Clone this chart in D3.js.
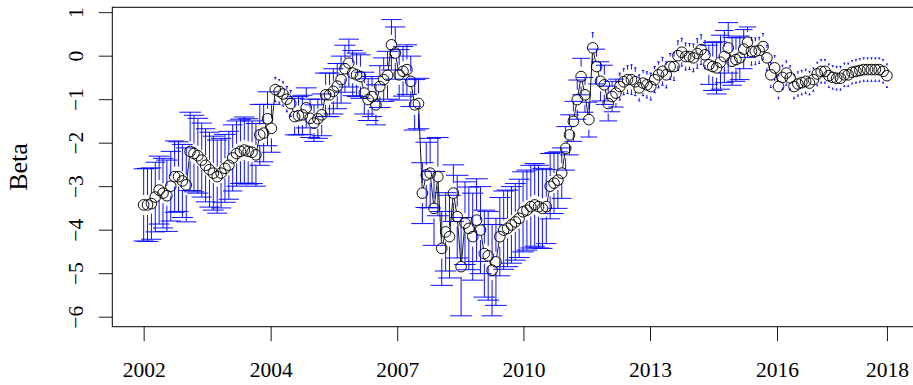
<!DOCTYPE html>
<html>
<head>
<meta charset="utf-8">
<script src="https://cdn.jsdelivr.net/npm/d3@7"></script>
<style>
  body { margin: 0; background: #fff; }
  svg { display: block; }
</style>
</head>
<body>
<div id="chart"></div>
<script>
// monthly estimates, Jan 2002 .. Jan 2018 (index 0..192)
const beta = [
  -3.43,-3.43,-3.40,-3.25,-3.09,-3.16,-3.22,-3.00,-2.78,-2.78,
  -2.88,-2.97,-2.20,-2.25,-2.30,-2.40,-2.52,-2.62,-2.70,-2.78,
  -2.70,-2.59,-2.52,-2.35,-2.25,-2.20,-2.17,-2.20,-2.22,-2.28,
  -1.82,-1.78,-1.45,-1.67,-0.78,-0.82,-0.88,-1.00,-1.10,-1.40,
  -1.38,-1.36,-1.20,-1.44,-1.55,-1.45,-1.36,-0.90,-0.90,-0.82,
  -0.70,-0.55,-0.30,-0.17,-0.40,-0.44,-0.48,-0.86,-1.01,-0.94,
  -1.13,-0.71,-0.55,-0.45, 0.25, 0.06,-0.44,-0.36,-0.32,-0.59,
  -1.13,-1.10,-3.16,-2.74,-2.70,-3.51,-2.78,-4.43,-4.05,-4.16,
  -3.16,-3.70,-4.85,-3.85,-3.97,-4.16,-3.78,-4.01,-4.55,-4.60,
  -4.93,-4.74,-4.16,-4.01,-3.97,-3.89,-3.82,-3.74,-3.59,-3.55,
  -3.47,-3.43,-3.47,-3.51,-3.47,-3.00,-2.93,-2.86,-2.70,-2.13,
  -1.82,-1.51,-1.01,-0.48,-0.90,-1.47, 0.18,-0.25,-0.59,-0.67,
  -1.10,-0.94,-0.86,-0.71,-0.60,-0.55,-0.55,-0.60,-0.74,-0.63,
  -0.67,-0.71,-0.55,-0.44,-0.36,-0.44,-0.25,-0.25, 0.00, 0.08,
  -0.02,-0.02,-0.05, 0.05, 0.14, 0.02,-0.21,-0.25,-0.28,-0.15,
  -0.02, 0.18,-0.13,-0.09,-0.05, 0.15, 0.31, 0.10, 0.10, 0.12,
   0.21,-0.05,-0.44,-0.28,-0.71,-0.50,-0.40,-0.51,-0.71,-0.65,
  -0.62,-0.59,-0.63,-0.55,-0.42,-0.36,-0.36,-0.46,-0.50,-0.52,
  -0.52,-0.44,-0.44,-0.38,-0.36,-0.34,-0.32,-0.32,-0.32,-0.32,
  -0.32,-0.36,-0.46
];

// half width of the confidence interval (beta units)
const ciHalf = [
  0.83,0.84,0.82,0.80,0.78,0.80,0.82,
  0.80,0.82,0.80,0.84,0.85,
  0.90,0.88,0.86,0.85,0.84,0.86,0.85,0.84,
  0.80,0.78,0.78,0.76,0.75,0.74,0.76,0.75,0.72,0.72,
  0.70,0.66,0.62,0.55,
  0.28,0.27,0.28,0.29,0.30,
  0.42,0.44,0.45,0.46,0.44,0.42,0.45,0.48,
  0.50,0.50,0.52,0.52,0.54,0.54,0.55,0.52,0.50,0.50,0.48,0.48,0.46,0.46,0.48,0.50,
  0.55,0.58,0.60,0.58,0.57,0.57,0.58,0.58,0.58,
  0.70,0.75,0.80,0.85,0.90,0.85,0.90,0.95,0.65,0.95,1.13,0.95,0.95,1.00,0.95,1.00,1.00,1.02,1.05,1.00,
  0.90,0.90,0.88,0.88,0.88,0.90,0.92,0.92,0.95,0.95,0.95,0.92,
  0.85,0.75,0.70,0.65,0.58,0.50,0.46,0.46,
  0.45,0.42,0.40,0.40,0.35,0.40,0.45,0.45,
  0.40,0.35,0.32,0.31,0.30,0.32,0.34,0.32,0.30,0.29,
  0.30,0.31,0.30,0.30,0.32,0.30,0.30,0.32,0.34,0.32,
  0.31,0.30,0.32,0.34,0.34,0.32,
  0.45,0.55,0.60,0.62,0.60,0.58,0.55,0.50,0.50,0.45,0.35,
  0.32,0.31,0.30,0.30,0.29,0.29,0.28,0.28,0.28,0.28,
  0.28,0.28,0.28,0.28,0.28,0.27,0.27,0.27,0.27,0.27,
  0.27,0.27,0.27,0.27,0.27,0.27,0.27,0.27,0.27,0.27,
  0.27,0.27,0.27,0.27,0.27,0.27
];

// half width of the horizontal caps (months)
const capHalf = [
  2.6,2.8,2.6,2.5,2.7,2.6,2.8,2.6,2.5,2.6,
  2.7,2.6,2.8,2.6,2.7,2.6,2.5,2.6,2.7,2.6,
  2.6,2.8,2.6,2.5,2.6,2.7,2.6,2.6,2.8,2.6,
  2.6,2.5,2.6,2.4,
  0.3,0.25,0.25,0.3,0.3,
  2.5,2.6,2.6,2.7,2.6,2.5,2.6,2.6,2.7,2.6,
  2.6,2.5,2.6,2.7,2.6,2.6,2.5,2.6,2.6,2.7,
  2.6,2.6,2.8,2.7,2.8,2.6,2.6,2.7,2.6,2.6,
  2.7,2.8,2.8,2.9,2.8,2.8,2.9,2.8,2.9,2.8,
  2.9,2.8,2.9,2.8,2.8,2.9,2.8,2.9,2.8,2.8,
  2.8,2.7,2.8,2.7,2.7,2.8,2.7,2.7,2.7,2.8,
  2.7,2.7,2.6,2.7,2.6,2.6,2.6,2.5,2.5,2.5,
  2.4,2.4,2.3,2.3,2.3,2.2,2.2,
  0.3,
  2.2,2.3,2.2,2.3,2.1,2.0,
  0.3,0.3,0.3,0.3,0.3,0.3,0.3,0.3,0.3,0.3,
  0.3,0.3,0.3,0.3,0.3,0.3,0.3,0.3,0.3,0.3,
  0.3,0.3,0.3,
  2.3,2.5,2.6,2.5,2.4,2.6,2.5,2.4,2.5,2.3,2.2,
  0.25,0.25,0.25,0.25,0.25,0.25,0.25,0.25,0.25,0.25,
  0.25,0.25,0.25,0.25,0.25,0.25,0.25,0.25,0.25,0.25,
  0.25,0.25,0.25,0.25,0.25,0.25,0.25,0.25,0.25,0.25,
  0.25,0.25,0.25,0.25,0.25,0.25
];

// x ticks sit at month indices, labelled with the year
const xTicks = [0, 32.8, 65.5, 98.1, 130.8, 163.6, 192];
const xTickLabels = ["2002", "2004", "2007", "2010", "2013", "2016", "2018"];
const yTicks = [1, 0, -1, -2, -3, -4, -5, -6];

const width = 913, height = 385;
const box = { left: 112.3, top: 7.3, right: 918.3, bottom: 326.7 };
const R = 5.3;   // circle radius
const GAP = 10;  // bars start this far from a point's centre

const svg = d3.select("#chart")
  .append("svg")
  .attr("width", width)
  .attr("height", height)
  .style("font-family", "'Liberation Serif', 'Times New Roman', serif");

const x = d3.scaleLinear().domain([-8.1, 200.1]).range([box.left, box.right]);
const y = d3.scaleLinear().domain([-6.23, 1.112]).range([box.bottom, box.top]);

const pts = beta.map((b, i) => ({
  i, b, lo: b - ciHalf[i], hi: b + ciHalf[i], cap: capHalf[i]
}));

// error bars: from the gap out to the bound, with a cap
const ends = [];
pts.forEach((p) => {
  const cx = x(p.i), cy = y(p.b);
  const capPx = x(p.i + p.cap) - cx;
  [[y(p.hi), -1], [y(p.lo), 1]].forEach(([end, dir]) => {
    const start = cy + dir * GAP;
    if ((end - start) * dir > 0) ends.push({ cx, start, end, cap: capPx });
  });
});

const bars = svg.append("g")
  .attr("stroke", "#0000ff")
  .attr("stroke-width", 0.95)
  .attr("fill", "none");

bars.selectAll(".bar")
  .data(ends)
  .join("line")
  .attr("class", "bar")
  .attr("x1", (d) => d.cx).attr("x2", (d) => d.cx)
  .attr("y1", (d) => d.start).attr("y2", (d) => d.end);

bars.selectAll(".cap")
  .data(ends)
  .join("line")
  .attr("class", "cap")
  .attr("x1", (d) => d.cx - d.cap).attr("x2", (d) => d.cx + d.cap)
  .attr("y1", (d) => d.end).attr("y2", (d) => d.end);

// connecting line, broken around the circles (like type = "b")
const segs = d3.pairs(pts).map(([a, c]) => {
  const x1 = x(a.i), y1 = y(a.b), x2 = x(c.i), y2 = y(c.b);
  const dx = x2 - x1, dy = y2 - y1, dist = Math.hypot(dx, dy);
  return { x1, y1, dx, dy, dist };
}).filter((s) => s.dist > 2 * R);

svg.append("g")
  .attr("stroke", "#000")
  .attr("stroke-width", 0.9)
  .selectAll("line")
  .data(segs)
  .join("line")
  .attr("x1", (s) => s.x1 + s.dx * R / s.dist)
  .attr("y1", (s) => s.y1 + s.dy * R / s.dist)
  .attr("x2", (s) => s.x1 + s.dx * (1 - R / s.dist))
  .attr("y2", (s) => s.y1 + s.dy * (1 - R / s.dist));

svg.append("g")
  .attr("fill", "none")
  .attr("stroke", "#000")
  .attr("stroke-width", 0.95)
  .selectAll("circle")
  .data(pts)
  .join("circle")
  .attr("cx", (p) => x(p.i))
  .attr("cy", (p) => y(p.b))
  .attr("r", R);

// axes
const yAxis = d3.axisLeft(y).tickValues(yTicks).tickSize(13.5).tickFormat(d3.format("d"));
svg.append("g")
  .attr("transform", `translate(${box.left},0)`)
  .call(yAxis)
  .call((g) => {
    g.select(".domain").remove();
    g.selectAll("line").attr("stroke", "#000").attr("stroke-width", 0.9);
    g.selectAll("text")
      .attr("x", 0).attr("dy", null)
      .attr("text-anchor", "middle")
      .attr("transform", "translate(-29,0) rotate(-90)")
      .attr("fill", "#000")
      .style("font-family", "'Liberation Serif', serif")
      .style("font-size", "21.5px");
  });

const xAxis = d3.axisBottom(x).tickValues(xTicks).tickSize(14.5).tickFormat((d, i) => xTickLabels[i]);
svg.append("g")
  .attr("transform", `translate(0,${box.bottom})`)
  .call(xAxis)
  .call((g) => {
    g.select(".domain").remove();
    g.selectAll("line").attr("stroke", "#000").attr("stroke-width", 0.9);
    g.selectAll("text")
      .attr("y", 50).attr("dy", null)
      .attr("fill", "#000")
      .style("font-family", "'Liberation Serif', serif")
      .style("font-size", "21.5px");
  });

// plot frame
svg.append("rect")
  .attr("x", box.left).attr("y", box.top)
  .attr("width", box.right - box.left)
  .attr("height", box.bottom - box.top)
  .attr("fill", "none")
  .attr("stroke", "#000")
  .attr("stroke-width", 1);

svg.append("text")
  .attr("transform", `translate(26.5,${(box.top + box.bottom) / 2}) rotate(-90)`)
  .attr("text-anchor", "middle")
  .style("font-size", "26px")
  .text("Beta");
</script>
</body>
</html>
